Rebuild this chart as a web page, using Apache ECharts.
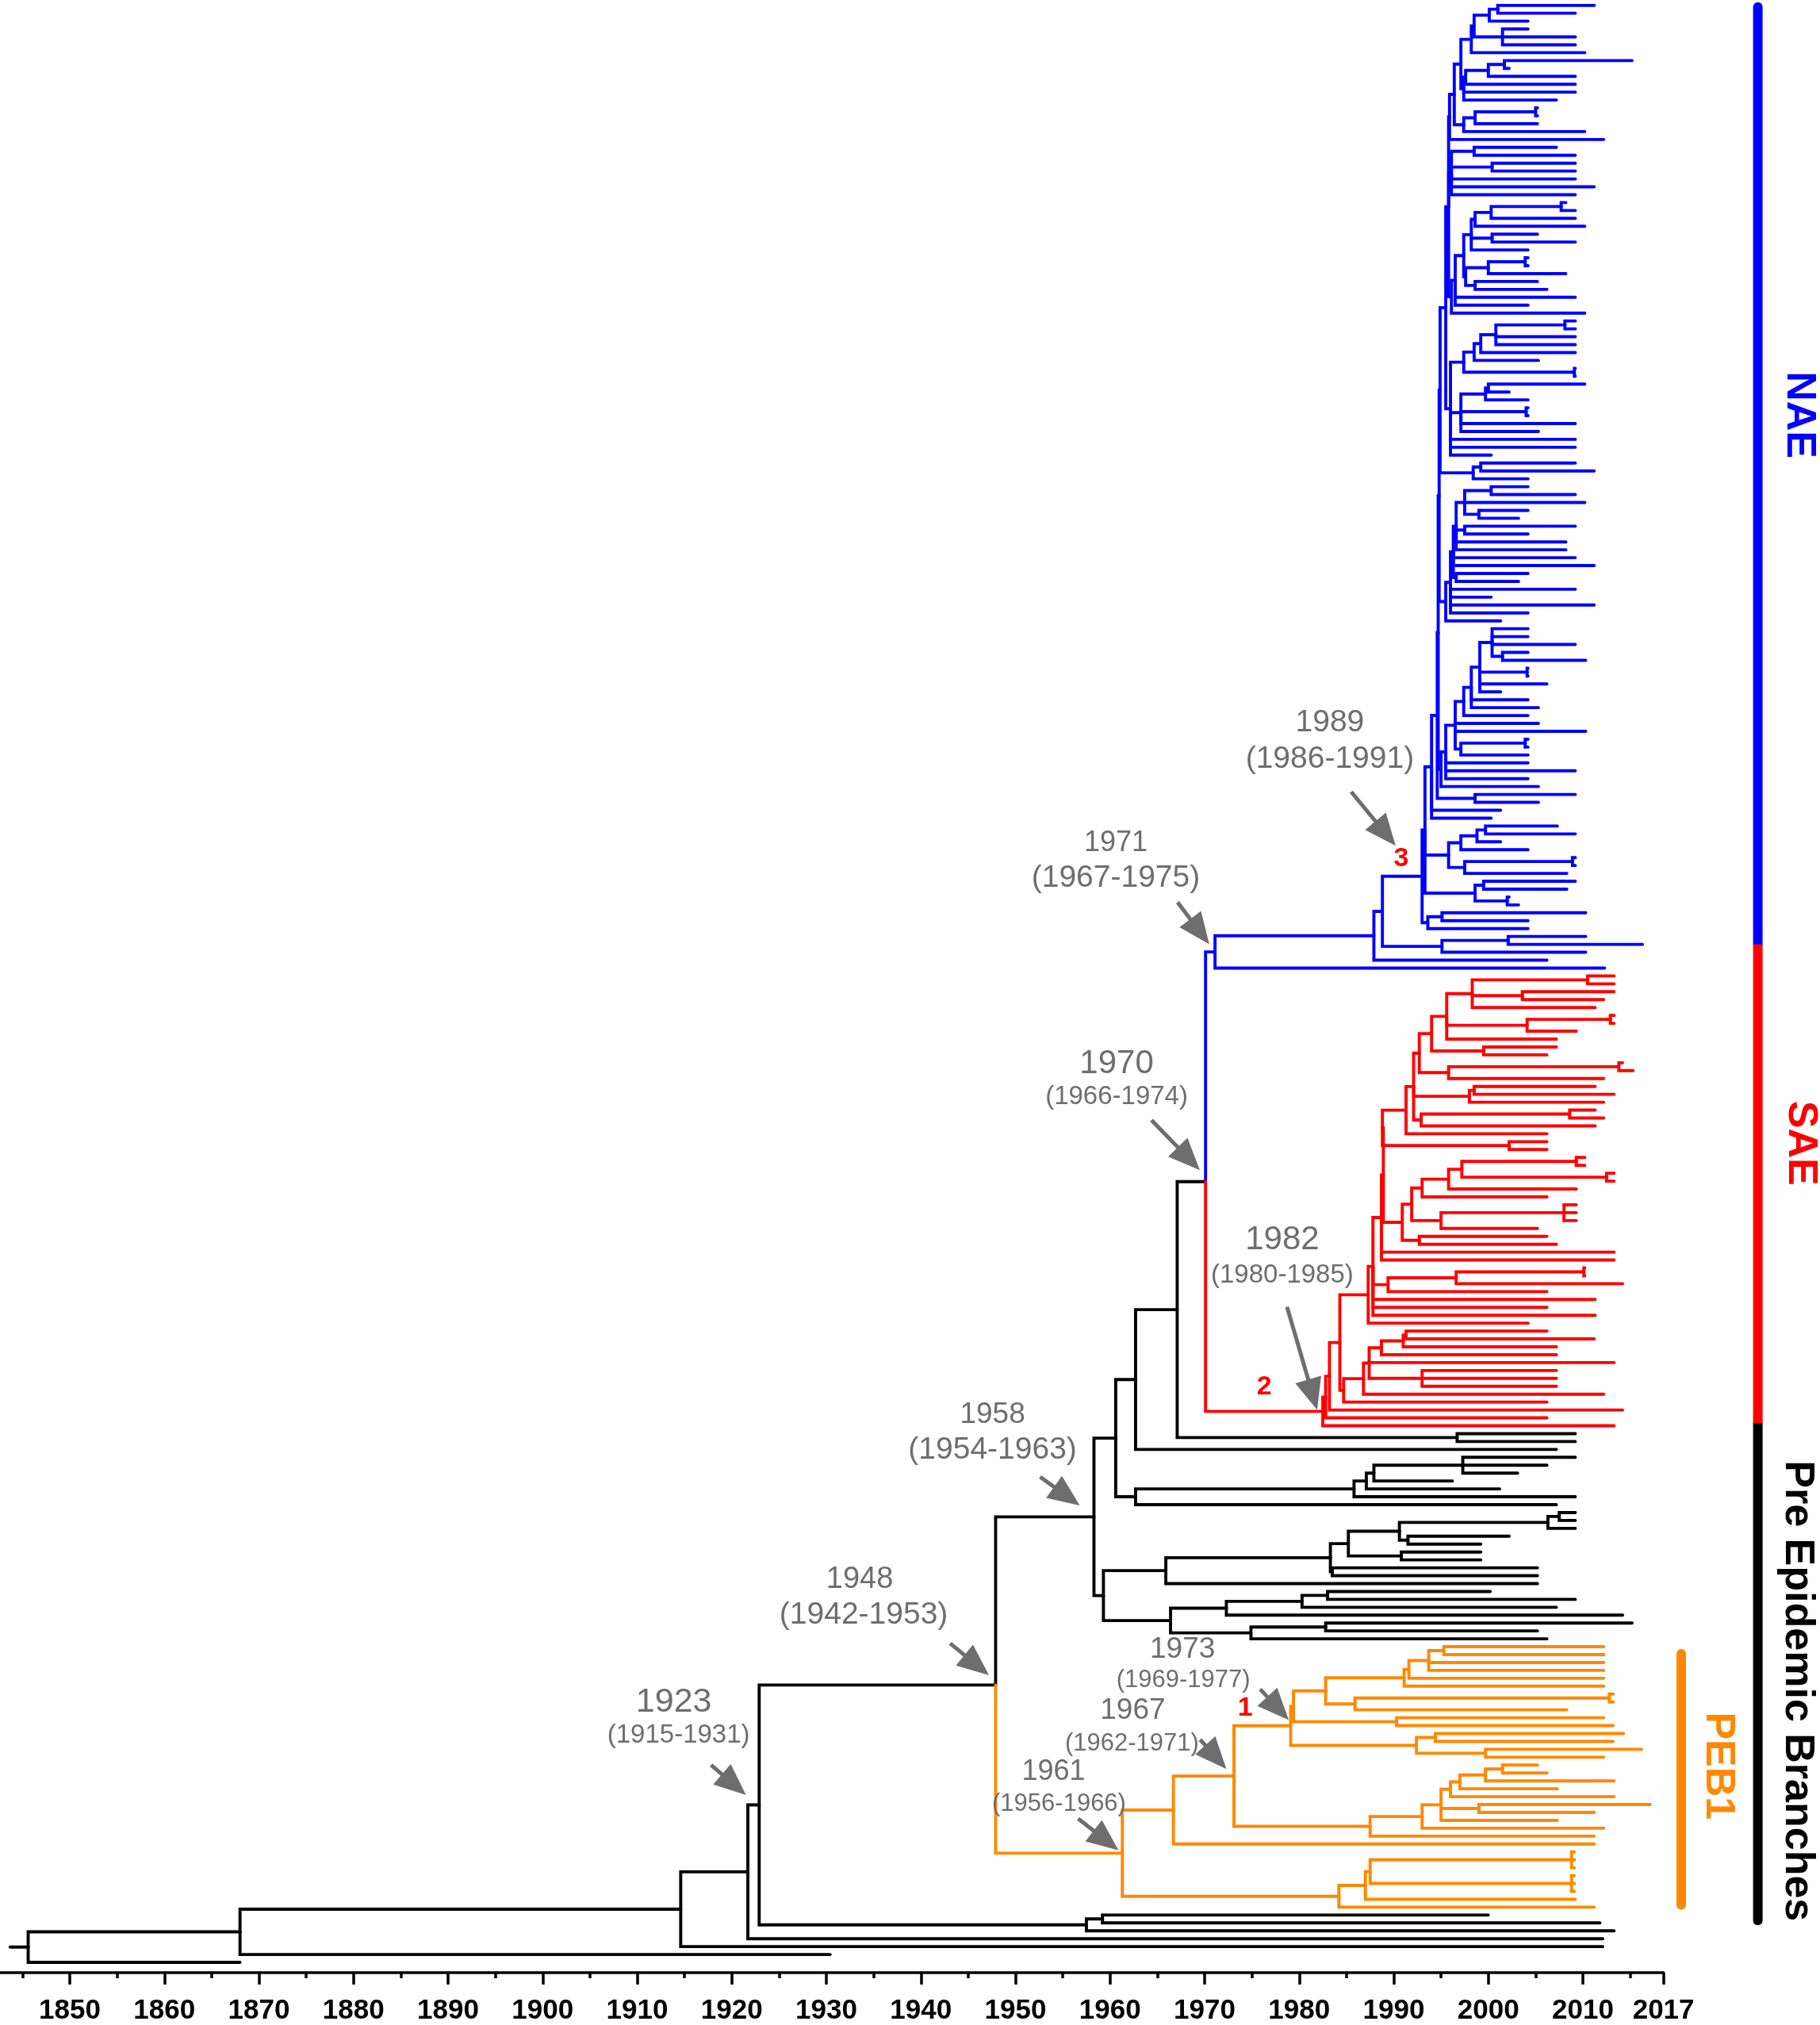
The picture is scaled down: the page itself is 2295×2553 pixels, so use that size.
<!DOCTYPE html>
<html>
<head>
<meta charset="utf-8">
<script src="https://cdn.jsdelivr.net/npm/echarts@6/dist/echarts.min.js"></script>
<style>
  html, body { margin: 0; padding: 0; background: #fff; }
  #main { width: 2295px; height: 2553px; }
</style>
</head>
<body>
<div id="main"></div>
<script>
// ---- tree data: "(children)nodeYear", tips are their end year, "@x" marks a clade colour ----
// NAE, upper part
const naeA = '((((2011.2,2009.2)2001.0,2004.2)2000.1,(2004.2,2009.2,2009.2)2001.5)1998.5,2010.2)1998.2';
const naeB = '((((2015.2,2002.2)2001.7,2009.2)2000.0,2009.2)1997.6,2009.2,2007.2)1997.4';
const naeC = '(((2005.2,2005.2)2005.0,2005.2)1998.6,2010.2)1997.4';
const naeD = '((2007.2,2009.2)1998.5,(2009.2,2009.2)2000.4,2009.2,2011.2,2009.2)1996.1';
const naeE2 = '((2008.2,2009.2)2007.7,2009.2)2000.3';
const naeE5 = `((${naeE2},2010.2)1998.6,(2005.2,2009.2)2000.4,2004.2)1998.2`;
const naeE9 = '(((2004.2,2004.2)2003.9,2008.2)2000.0,(2005.2,2006.2)1998.6)1997.6';
const naeE = `((${naeE5},${naeE9})1997.4,2009.2,2004.2)1996.5`;
const naeZ1 = `((((${naeA},${naeB})1997.1,${naeC})1996.4,2012.2)1995.9,${naeD},(${naeE},2010.2)1996.1)1995.8`;
const naeF1 = '((2009.2,2009.2)2008.1,2009.2,2009.2)2000.8';
const naeF4 = `(((${naeF1},2009.2)1999.2,2005.3)1998.5,(2009.2,2009.2)2009.1)1997.4`;
const naeF5 = '(((2010.2,2002.2)2000.0,2004.2)1999.7,(2004.2,2004.2)2004.0,2009.2,2005.3)1997.1';
const naeF = `(${naeF4},${naeF5},2009.2,2009.2,2000.3)1996.0`;
const naeG = '((2009.2,2011.2)1999.2,2004.2)1998.4';
const naeH1 = '((2004.2,2009.2)2000.3,2010.2,(2004.2,2003.2)1999.0)1997.5';
const naeH2 = `(${naeH1},(2009.2,2004.2)1997.5,2008.2,2008.2)1996.6`;
const naeH = `(${naeH2},2009.2,2011.2,(2004.2,2003.2)1996.6)1996.3`;
const naeI = `((${naeH},2009.2,2000.3,2011.2,2004.2)1996.0,2001.3)1995.5`;
const naeJ1 = '(2004.2,2004.2,2009.2,(2004.2,2010.3)2001.5)2000.4';
const naeJ2 = `(${naeJ1},(2004.2,2004.2)2004.1,2006.2,2001.3)1999.1`;
const naeJ4 = `((${naeJ2},2004.2,2005.3)1998.2,2004.2)1997.4`;
const naeJ5 = `(${naeJ4},2005.3,2010.3,((2004.2,2004.2)2003.9,2004.2)1997.1)1996.5`;
const naeJ7 = `((${naeJ5},2004.2,2009.2,2004.2)1995.5,2005.3)1995.0`;
// the backbone of NAE is a staircase of nearly simultaneous splits
const naeSpine = `((((((${naeZ1},${naeF})1995.5,${naeG})1994.9,${naeI})1994.8,${naeJ7})1994.7,(2009.2,2005.3)1998.6)1994.6,2001.3,2000.3)1994.0`;
// NAE, lower part
const naeG1 = '((((2007.3,2009.2)1999.7,2001.3)1998.8,2004.2)1997.1,((2009.2,2009.2)2008.9,2008.3)1997.5)1995.8';
const naeG2 = '((2009.2,2008.3)1999.5,(2002.2,2003.2)2002.0)1998.6';
const naeG3 = '((2010.3,2004.2)1995.1,2004.2)1993.6';
const naeCore = `((${naeSpine},${naeG1},${naeG2})1993.3,${naeG3})1993.0`;
const naeTree = `(((${naeCore},((2010.3,2016.3)2002.1,2010.3)1995.1)1988.8,2006.2)1987.9,2012.3)1971.1@b`;

// SAE
const saeS1 = '((2013.3,2013.3)2010.5,(2013.3,2012.2)2003.6,2011.3)1998.3';
const saeS2 = '((2013.3,2013.3)2012.9,2009.3)2004.1';
const saeS5 = `((${saeS1},${saeS2},2007.2)1995.6,(2007.2,2006.2)1999.5)1994.0`;
const saeS7 = `(${saeS5},((2014.2,2015.3)2013.8,2012.2)1995.8)1992.7`;
const saeS10 = `(${saeS7},((2011.3,2013.3)1998.5,2012.2)1998.0,((2011.3,2012.2)2008.6,2011.3)1992.9)1992.1`;
const saeS13 = `((${saeS10},2006.2)1991.3,(2006.2,2006.2)2002.2)1988.8`;
const saeS14a = '(((2010.2,2010.2)2009.3,(2013.3,2013.3)2012.5)1997.2,2009.3)1995.8';
const saeS14 = `(((${saeS14a},2006.2)1993.0,((2009.3,2009.3,2009.3)2008.0,2005.2)1995.0)1991.9,(2006.2,2007.2)1992.7)1990.9`;
const saeS18 = '(((2010.2,2010.2)2010.1,2014.2)1996.6,2006.2)1989.4';
const saeS20 = `((((${saeS13},${saeS14})1988.9,2013.3,2013.3)1988.7,${saeS18},2011.3,2006.2,2011.3)1987.8,2004.2)1987.3`;
const saeL2 = '(((2006.2,2011.2)1991.3,2007.2)1991.0,2007.2)1988.7';
const saeL5 = `(((${saeL2},2013.3,(2007.2,2007.2,2007.2)1993.0)1987.4,2012.2)1986.8,2006.2)1984.7`;
const saeTree = `((((${saeS20},${saeL5})1984.3,2014.2)1983.2,2006.2)1982.8,2013.3)1982.5@r`;

// Pre epidemic branches
const preUpper = `(((${naeTree},${saeTree})1970.1,(2009.2,2009.2)1996.7)1967.1,2007.2)1962.7`;
const preMid = '(((((2009.2,2006.2,2003.1)1997.3,1996.2)1987.9,2001.2)1987.1,2009.2)1985.8,2007.2)1962.7';
const preQ1 = '((((2009.2,2009.2)2007.5,2009.2)2006.3,(2002.2,1999.2)1991.5)1990.6,(1999.2,1999.2)1990.8)1985.2';
const preQ3 = `((${preQ1},(2005.2,2005.2)1983.5)1983.3,2005.2)1965.9`;
const preQ6 = '((((2000.2,2009.2)1983.0,2007.2)1980.3,2014.2)1972.3,((2015.2,2005.2)1982.8,2006.2)1974.9)1966.4';
const preTree = `((${preUpper},${preMid})1960.6,(${preQ3},${preQ6})1959.3)1958.3`;

// PEB1
const pebA = '(((2012.2,2012.2)1995.3,2012.2,2012.2)1993.7,2012.2)1991.6';
const pebR = `((${pebA},2012.2)1991.1,((2013.2,2013.2)2012.8,2008.3)1985.9)1982.8`;
const pebP = `((${pebR},(2012.2,2013.2)1990.3)1979.4,((2014.3,2013.2)1994.4,(2016.2,2012.2)1999.7)1992.4)1979.1`;
const pebLow = '((((((2005.2,2006.2)2001.5,2013.3)1999.7,2007.3)1997.0,2013.3)1996.0,(2017.1,2011.2)1999.0,2007.3)1995.0,2012.2)1993.0';
const pebX = '((((2009.1,2009.1,2009.1)2008.8,(2009.1,2009.1,2009.1)2008.8)1987.5,2009.2)1987.0,2011.2)1984.2';
const pebTree = `(((${pebP},(${pebLow},2011.2)1987.5)1973.1,2011.2)1966.7,${pebX})1961.3@o`;

// backbone
const fullTree = `((((((${preTree},${pebTree})1947.9,((2000.0,2011.8)1959.2,2013.3)1957.5)1922.9,2012.1)1921.7,2012.1)1914.6,1930.4)1868.0,1868.0)1845.6`;
const rootStart = 1843.7;

// axis
const tickYears = [1850, 1860, 1870, 1880, 1890, 1900, 1910, 1920, 1930, 1940, 1950, 1960, 1970, 1980, 1990, 2000, 2010];
const minorYears = [1845, 1855, 1865, 1875, 1885, 1895, 1905, 1915, 1925, 1935, 1945, 1955, 1965, 1975, 1985, 1995, 2005, 2015];
const endTickLabel = '2017';
const axisMin = 1842.62, axisMax = 2018.52;

// node annotations: date, credible range, point the arrow hits [year, row]
const annoYears = ['1989', '1971', '1970', '1982', '1958', '1948', '1923', '1973', '1967', '1961'];
const annoRanges = ['(1986-1991)', '(1967-1975)', '(1966-1974)', '(1980-1985)', '(1954-1963)',
  '(1942-1953)', '(1915-1931)', '(1969-1977)', '(1962-1971)', '(1956-1966)'];
const annoPoints = [[1990.2, 106.5], [1970.5, 119.0], [1969.5, 147.6], [1981.9, 178.0], [1956.8, 190.1],
  [1947.2, 211.6], [1921.5, 226.8], [1978.9, 217.3], [1972.3, 223.5], [1960.9, 233.8]];
const markNums = ['3', '2', '1'];
const markPoints = [[1990.8, 108.1], [1976.3, 175.1], [1974.3, 215.8]];
const cladeNames = ['NAE', 'SAE', 'Pre Epidemic Branches', 'PEB1'];

// ---- layout / style ----
const FONT = '"Liberation Sans", Arial, Helvetica, sans-serif';
const GRAY = '#6e6e6e';
const cladeColors = { b: '#0000ff', r: '#ff0000', o: '#ff8800' };
// pixel offsets of arrow tail and the two labels from the arrow head, with font sizes
const annoLayout = [
  { tail: [-56, -68], t1: [-83, -155, 39], t2: [-83, -109, 39] },
  { tail: [-40, -53], t1: [-118, -128, 36], t2: [-118, -83, 39] },
  { tail: [-61, -63], t1: [-105, -134, 42], t2: [-105, -92, 33] },
  { tail: [-38, -130], t1: [-44, -214, 42], t2: [-44, -170, 33] },
  { tail: [-50, -36], t1: [-110, -114, 37], t2: [-110, -70, 39] },
  { tail: [-49, -40], t1: [-163, -120, 38], t2: [-158, -76, 39] },
  { tail: [-44, -38], t1: [-91, -117, 43], t2: [-85, -75, 33] },
  { tail: [-36, -39], t1: [-134, -89, 37], t2: [-133, -50, 31] },
  { tail: [-33, -37], t1: [-118, -73, 37], t2: [-119, -32, 31] },
  { tail: [-51, -40], t1: [-82, -99, 36], t2: [-75, -58, 31] }
];
const sideBars = [
  { x: 2028.5, r0: 0.2, r1: 119.0, color: '#0000ff', cap: 'round' },
  { x: 2028.5, r0: 179.7, r1: 242.7, color: '#000000', cap: 'round' },
  { x: 2028.5, r0: 119.0, r1: 179.7, color: '#ff0000', cap: 'butt' },
  { x: 2020.4, r0: 208.9, r1: 240.7, color: '#ff8800', cap: 'round' }
];
const sideLabels = [
  { x: 2032.8, r: 51.9, color: '#0000ff' },
  { x: 2033.0, r: 144.2, color: '#ff0000' },
  { x: 2032.7, r: 213.6, color: '#000000' },
  { x: 2024.3, r: 223.1, color: '#ff8800' }
];

// ---- parse the tree and lay it out ----
function parseTree(str) {
  const s = str.replace(/\s+/g, '');
  let i = 0;
  function readNum() {
    const m = /^-?\d+(\.\d+)?/.exec(s.slice(i));
    if (!m) throw new Error('bad tree at ' + i + ': ' + s.slice(i, i + 20));
    i += m[0].length;
    return parseFloat(m[0]);
  }
  function readNode() {
    const node = { children: [] };
    if (s[i] === '(') {
      i++;
      for (;;) {
        node.children.push(readNode());
        const c = s[i++];
        if (c === ')') break;
        if (c !== ',') throw new Error('bad tree char ' + c + ' at ' + (i - 1));
      }
    }
    node.x = readNum();
    if (s[i] === '@') { node.color = cladeColors[s[i + 1]]; i += 2; }
    return node;
  }
  return readNode();
}

const tree = parseTree(fullTree);
let leafCount = 0;
function layout(node, color) {
  node.c = node.color || color;
  if (!node.children.length) {
    node.y = leafCount++;
  } else {
    node.children.forEach(ch => layout(ch, node.c));
    node.y = (node.children[0].y + node.children[node.children.length - 1].y) / 2;
  }
}
layout(tree, '#000000');

const branches = [{ coords: [[rootStart, tree.y], [tree.x, tree.y]], lineStyle: { color: '#000000' } }];
function collect(node) {
  node.children.forEach(ch => {
    branches.push({
      coords: [[node.x, node.y], [node.x, ch.y], [ch.x, ch.y]],
      lineStyle: { color: ch.c }
    });
    collect(ch);
  });
}
collect(tree);

// first tip at 6.7px, last tip at 2479px, axis line at 2492px
const yMax = (leafCount - 1) * 2485.3 / 2472.3;

const chart = echarts.init(document.getElementById('main'), null, { renderer: 'canvas' });

const option = {
  animation: false,
  backgroundColor: '#ffffff',
  grid: { left: 0, right: 197.4, top: 6.7, bottom: 61, containLabel: false },
  xAxis: [
    {
      type: 'value', min: axisMin, max: axisMax, position: 'bottom',
      axisLine: { show: true, onZero: false, lineStyle: { color: '#000', width: 3.5 } },
      axisTick: { show: true, length: 15, customValues: tickYears.concat([axisMax]), lineStyle: { color: '#000', width: 3.5 } },
      axisLabel: {
        show: true, customValues: tickYears.concat([axisMax]), margin: 31,
        color: '#000', fontSize: 35, fontWeight: 'bold', fontFamily: FONT,
        formatter: v => (v > 2015 ? endTickLabel : String(Math.round(v)))
      },
      splitLine: { show: false }
    },
    {
      type: 'value', min: axisMin, max: axisMax, position: 'bottom',
      axisLine: { show: false, onZero: false },
      axisTick: { show: true, length: 7, customValues: minorYears, lineStyle: { color: '#000', width: 3.5 } },
      axisLabel: { show: false },
      splitLine: { show: false }
    }
  ],
  yAxis: { type: 'value', inverse: true, min: 0, max: yMax, show: false },
  series: [
    {
      type: 'lines',
      coordinateSystem: 'cartesian2d',
      polyline: true,
      silent: true,
      lineStyle: { width: 3.9, cap: 'round', join: 'miter', opacity: 1 },
      data: branches,
      z: 2
    },
    {
      type: 'custom',
      clip: false,
      silent: true,
      data: annoPoints,
      z: 5,
      renderItem: (params, api) => {
        const k = params.dataIndex;
        const L = annoLayout[k];
        const p = api.coord([api.value(0), api.value(1)]);
        const tx = p[0] + L.tail[0], ty = p[1] + L.tail[1];
        const dx = p[0] - tx, dy = p[1] - ty;
        const len = Math.hypot(dx, dy), ux = dx / len, uy = dy / len;
        const hl = 40, hw = 17;
        const bx = p[0] - ux * hl, by = p[1] - uy * hl;
        return {
          type: 'group',
          children: [
            { type: 'line', shape: { x1: tx, y1: ty, x2: bx + ux * 4, y2: by + uy * 4 },
              style: { stroke: GRAY, lineWidth: 5 } },
            { type: 'polygon', shape: { points: [[p[0], p[1]], [bx - uy * hw, by + ux * hw], [bx + uy * hw, by - ux * hw]] },
              style: { fill: GRAY } },
            { type: 'text', x: p[0] + L.t1[0], y: p[1] + L.t1[1],
              style: { text: annoYears[k], fill: GRAY, fontSize: L.t1[2], fontFamily: FONT, align: 'center', verticalAlign: 'middle' } },
            { type: 'text', x: p[0] + L.t2[0], y: p[1] + L.t2[1],
              style: { text: annoRanges[k], fill: GRAY, fontSize: L.t2[2], fontFamily: FONT, align: 'center', verticalAlign: 'middle' } }
          ]
        };
      }
    },
    {
      type: 'custom',
      clip: false,
      silent: true,
      data: markPoints,
      z: 6,
      renderItem: (params, api) => {
        const p = api.coord([api.value(0), api.value(1)]);
        return {
          type: 'text', x: p[0], y: p[1],
          style: { text: markNums[params.dataIndex], fill: '#ff0000', fontSize: 34, fontWeight: 'bold',
            fontFamily: FONT, align: 'center', verticalAlign: 'middle' }
        };
      }
    },
    {
      type: 'custom',
      clip: false,
      silent: true,
      data: [[axisMax, 0]],
      z: 4,
      renderItem: (params, api) => {
        const children = [];
        sideBars.forEach(b => {
          const a = api.coord([b.x, b.r0]);
          const c = api.coord([b.x, b.r1]);
          children.push({ type: 'line', shape: { x1: a[0], y1: a[1], x2: c[0], y2: c[1] },
            style: { stroke: b.color, lineWidth: 12, lineCap: b.cap } });
        });
        sideLabels.forEach((l, k) => {
          const p = api.coord([l.x, l.r]);
          children.push({ type: 'text', x: p[0], y: p[1], rotation: -Math.PI / 2,
            style: { text: cladeNames[k], fill: l.color, fontSize: 52, fontWeight: 'bold', fontFamily: FONT,
              align: 'center', verticalAlign: 'middle' } });
        });
        return { type: 'group', children };
      }
    }
  ]
};

chart.setOption(option);
window.addEventListener('resize', () => chart.resize());
</script>
</body>
</html>
